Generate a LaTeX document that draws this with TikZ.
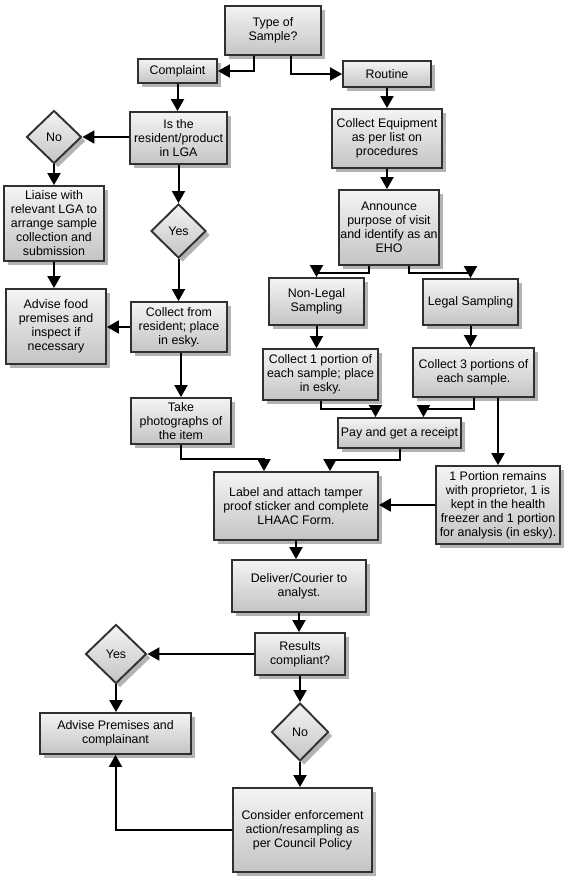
\documentclass[tikz,border=0pt]{standalone}
\usepackage{fontspec}
\setmainfont{Liberation Sans}
\usepackage{tikz}
\usetikzlibrary{arrows.meta,shapes.geometric,shadows}
\definecolor{boxtop}{HTML}{F4F4F4}
\definecolor{boxbottom}{HTML}{C4C4C4}
\definecolor{boxedge}{HTML}{303030}
\definecolor{shadegray}{HTML}{A0A0A0}

\begin{document}
\begin{tikzpicture}[x=1pt,y=-1pt,
  chartbox/.style={draw=boxedge,line width=1.9pt,top color=boxtop,bottom color=boxbottom,
    drop shadow={shadow xshift=4pt,shadow yshift=-4pt,fill=shadegray,opacity=0.8},
    font=\fontsize{12.4}{14}\selectfont,align=center,inner sep=1pt},
  decision/.style={chartbox,diamond,inner sep=0pt},
  flowarrow/.style={-{Triangle[length=12pt,width=13pt]},line width=2pt,black}]
  \useasboundingbox (0,0) rectangle (569,887);
  % Start
  \node[chartbox,minimum width=96,minimum height=49] (type) at (273,30.5) {Type of\\Sample?};
  \node[chartbox,minimum width=79,minimum height=24] (compl) at (177.5,71) {Complaint};
  \node[chartbox,minimum width=88,minimum height=26] (routine) at (387,74) {Routine};
  % Complaint branch
  \node[chartbox,minimum width=97,minimum height=52] (inlga) at (178.5,138) {Is the\\resident/product\\in LGA};
  \node[decision,minimum width=55,minimum height=53] (nolga) at (54,137) {No};
  \node[chartbox,minimum width=100,minimum height=75] (liaise) at (54,223.5) {Liaise with\\relevant LGA to\\arrange sample\\collection and\\submission};
  \node[decision,minimum width=55,minimum height=54] (yeslga) at (178.5,231) {Yes};
  \node[chartbox,minimum width=100,minimum height=75] (advfood) at (56,326.5) {Advise food\\premises and\\inspect if\\necessary};
  \node[chartbox,minimum width=96,minimum height=50] (collres) at (179,327) {Collect from\\resident; place\\in esky.};
  \node[chartbox,minimum width=100,minimum height=46] (photo) at (181,421) {Take\\photographs of\\the item};
  % Routine branch
  \node[chartbox,minimum width=110,minimum height=59] (colleq) at (387,138.5) {Collect Equipment\\as per list on\\procedures};
  \node[chartbox,minimum width=100,minimum height=75] (announce) at (389,227.5) {Announce\\purpose of visit\\and identify as an\\EHO};
  \node[chartbox,minimum width=95,minimum height=47] (nonlegal) at (316.5,301.5) {Non-Legal\\Sampling};
  \node[chartbox,minimum width=95,minimum height=46] (legal) at (470.5,302) {Legal Sampling};
  \node[chartbox,minimum width=115,minimum height=51] (coll1) at (320.5,374.5) {Collect 1 portion of\\each sample; place\\in esky.};
  \node[chartbox,minimum width=121,minimum height=49] (coll3) at (473.5,372.5) {Collect 3 portions of\\each sample.};
  \node[chartbox,minimum width=123,minimum height=30] (pay) at (399.5,433) {Pay and get a receipt};
  \node[chartbox,minimum width=124,minimum height=78] (portion) at (498,505) {1 Portion remains\\with proprietor, 1 is\\kept in the health\\freezer and 1 portion\\for analysis (in esky).};
  % Lab and results
  \node[chartbox,minimum width=164,minimum height=68] (label) at (296,506) {Label and attach tamper\\proof sticker and complete\\LHAAC Form.};
  \node[chartbox,minimum width=134,minimum height=52] (deliver) at (299,586) {Deliver/Courier to\\analyst.};
  \node[chartbox,minimum width=90,minimum height=42] (results) at (300,654) {Results\\compliant?};
  \node[decision,minimum width=61,minimum height=59] (yesres) at (116,654) {Yes};
  \node[chartbox,minimum width=151,minimum height=41] (advprem) at (115.5,733.5) {Advise Premises and\\complainant};
  \node[decision,minimum width=57,minimum height=58] (nores) at (300,732) {No};
  \node[chartbox,minimum width=139,minimum height=84] (consider) at (302.5,830) {Consider enforcement\\action/resampling as\\per Council Policy};
  % Connectors
  \draw[flowarrow] ([xshift=-19pt]type.south) |- (compl.east);
  \draw[flowarrow] ([xshift=18pt]type.south) |- (routine.west);
  \draw[flowarrow] (compl.south) -- (compl.south |- inlga.north);
  \draw[flowarrow] (inlga.west |- nolga.east) -- (nolga.east);
  \draw[flowarrow] (nolga.south) -- (liaise.north);
  \draw[flowarrow] (inlga.south) -- (yeslga.north);
  \draw[flowarrow] (liaise.south) -- (liaise.south |- advfood.north);
  \draw[flowarrow] (yeslga.south) -- (yeslga.south |- collres.north);
  \draw[flowarrow] (collres.west) -- (collres.west -| advfood.east);
  \draw[flowarrow] (photo.north |- collres.south) -- (photo.north);
  \draw[flowarrow] (photo.south) -- ++(0,14) -| ([xshift=-32pt]label.north);
  \draw[flowarrow] (routine.south) -- (routine.south |- colleq.north);
  \draw[flowarrow] (colleq.south) -- (colleq.south |- announce.north);
  \draw[flowarrow] ([xshift=-20pt]announce.south) -- ++(0,7) -| (nonlegal.north);
  \draw[flowarrow] ([xshift=20pt]announce.south) -- ++(0,7) -| (legal.north);
  \draw[flowarrow] (nonlegal.south) -- (nonlegal.south |- coll1.north);
  \draw[flowarrow] (legal.south) -- (legal.south |- coll3.north);
  \draw[flowarrow] (coll1.south) -- ++(0,8) -| ([xshift=-24pt]pay.north);
  \draw[flowarrow] (coll3.south) -- ++(0,11) -| ([xshift=24pt]pay.north);
  \draw[flowarrow] (portion.north |- coll3.south) -- (portion.north);
  \draw[flowarrow] (pay.south) -- ++(0,11) -| ([xshift=34pt]label.north);
  \draw[flowarrow] (portion.west) -- (portion.west -| label.east);
  \draw[flowarrow] (label.south) -- (label.south |- deliver.north);
  \draw[flowarrow] (deliver.south) -- (deliver.south |- results.north);
  \draw[flowarrow] (results.west) -- (yesres.east);
  \draw[flowarrow] (yesres.south) -- (yesres.south |- advprem.north);
  \draw[flowarrow] (results.south) -- (nores.north);
  \draw[flowarrow] (nores.south) -- (nores.south |- consider.north);
  \draw[flowarrow] (consider.west) -| (advprem.south);
\end{tikzpicture}
\end{document}
